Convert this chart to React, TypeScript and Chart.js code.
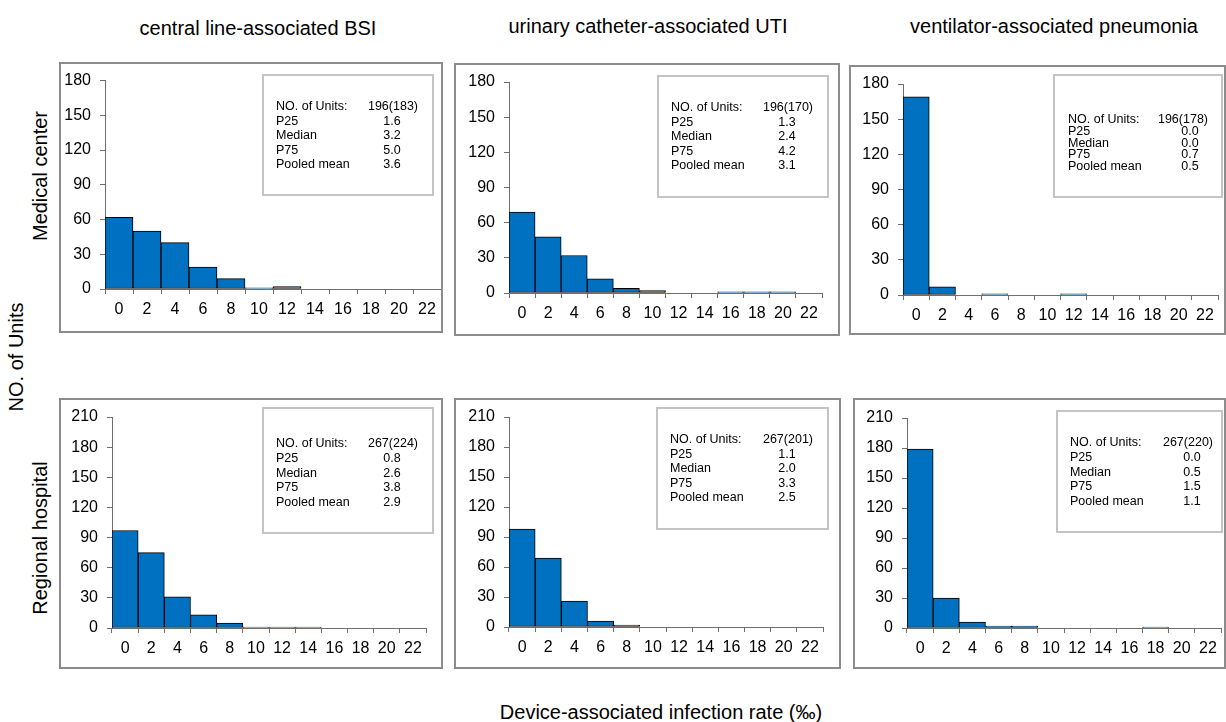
import React, { useEffect, useRef } from 'react';
import { Chart, registerables } from 'chart.js';

Chart.register(...registerables);

// ---------- data ----------
const binLabels = ['0', '2', '4', '6', '8', '10', '12', '14', '16', '18', '20', '22'];

const clabsiMedical = [62, 50, 40, 19, 9, 1, 2, 0, 0, 0, 0, 0];
const cautiMedical = [69, 48, 32, 12, 4, 2, 0, 0, 1, 1, 1, 0];
const vapMedical = [169, 7, 0, 1, 0, 0, 1, 0, 0, 0, 0, 0];
const clabsiRegional = [97, 75, 31, 13, 5, 1, 1, 1, 0, 0, 0, 0];
const cautiRegional = [98, 69, 26, 6, 2, 0, 0, 0, 0, 0, 0, 0];
const vapRegional = [179, 30, 6, 2, 2, 0, 0, 0, 0, 1, 0, 0];

const statLabels = ['NO. of Units:', 'P25', 'Median', 'P75', 'Pooled mean'];
const clabsiMedicalStats = ['196(183)', '1.6', '3.2', '5.0', '3.6'];
const cautiMedicalStats = ['196(170)', '1.3', '2.4', '4.2', '3.1'];
const vapMedicalStats = ['196(178)', '0.0', '0.0', '0.7', '0.5'];
const clabsiRegionalStats = ['267(224)', '0.8', '2.6', '3.8', '2.9'];
const cautiRegionalStats = ['267(201)', '1.1', '2.0', '3.3', '2.5'];
const vapRegionalStats = ['267(220)', '0.0', '0.5', '1.5', '1.1'];

const medicalYMax = 180;
const regionalYMax = 210;
const yStep = 30;

const columnTitles = ['central line-associated BSI', 'urinary catheter-associated UTI', 'ventilator-associated pneumonia'];
const rowTitles = ['Medical center', 'Regional hospital'];
const yAxisTitle = 'NO. of Units';
const xAxisTitle = 'Device-associated infection rate (‰)';

// ---------- layout (page coordinates) ----------
type Layout = {
  box: [number, number, number, number];
  plot: [number, number, number, number];
  info: [number, number, number, number];
  textX: number;
  lineY0: number;
  lineGap: number;
  valR: number;
  valC: number;
};

const panelLayouts: Layout[] = [
  { box: [59, 62, 443, 333], plot: [105, 72, 441, 289], info: [263, 75, 433, 195], textX: 276, lineY0: 107, lineGap: 14.5, valR: 418, valC: 392 },
  { box: [454, 63, 840, 336], plot: [509, 82, 822, 293], info: [658, 76, 828, 197], textX: 671, lineY0: 108, lineGap: 14.5, valR: 813, valC: 787 },
  { box: [849, 65, 1226, 335], plot: [903, 84, 1218, 295], info: [1054, 75, 1222, 197], textX: 1068, lineY0: 120, lineGap: 11.6, valR: 1208, valC: 1190 },
  { box: [59, 398, 443, 669], plot: [112, 417, 426, 628], info: [263, 408, 433, 533], textX: 276, lineY0: 444, lineGap: 14.6, valR: 418, valC: 392 },
  { box: [454, 398, 841, 669], plot: [509, 417, 823, 627], info: [657, 408, 828, 529], textX: 670, lineY0: 440, lineGap: 14.5, valR: 813, valC: 787 },
  { box: [853, 398, 1226, 669], plot: [907, 418, 1221, 628], info: [1057, 411, 1222, 532], textX: 1070, lineY0: 443, lineGap: 14.6, valR: 1213, valC: 1192 },
];

const panelValues = [clabsiMedical, cautiMedical, vapMedical, clabsiRegional, cautiRegional, vapRegional];
const panelStats = [clabsiMedicalStats, cautiMedicalStats, vapMedicalStats, clabsiRegionalStats, cautiRegionalStats, vapRegionalStats];
const panelYMax = [medicalYMax, medicalYMax, medicalYMax, regionalYMax, regionalYMax, regionalYMax];

const FONT = "'Liberation Sans', Arial, sans-serif";
const BAR_BLUE = '#0070C0';
const AXIS_GRAY = '#6f6f6f';

function Panel({ idx }: { idx: number }) {
  const ref = useRef<HTMLCanvasElement | null>(null);
  const L = panelLayouts[idx];
  const [bx0, by0, bx1, by1] = L.box;
  const W = bx1 - bx0;
  const H = by1 - by0;

  useEffect(() => {
    if (!ref.current) return;
    const values = panelValues[idx];
    const stats = panelStats[idx];
    const [px0, py0, px1, py1] = L.plot;

    const decor = {
      id: 'decor',
      afterDraw(chart: any) {
        const ctx = chart.ctx as CanvasRenderingContext2D;
        ctx.save();
        // panel border
        ctx.strokeStyle = '#8c8c8c';
        ctx.lineWidth = 2;
        ctx.strokeRect(1, 1, W - 2, H - 2);
        // info box
        const [ix0, iy0, ix1, iy1] = L.info;
        ctx.strokeStyle = '#c4c4c4';
        ctx.lineWidth = 2;
        ctx.strokeRect(ix0 - bx0, iy0 - by0, ix1 - ix0, iy1 - iy0);
        ctx.fillStyle = '#000';
        ctx.font = `12.5px ${FONT}`;
        ctx.textBaseline = 'middle';
        statLabels.forEach((lab, i) => {
          const y = L.lineY0 - by0 + i * L.lineGap;
          ctx.textAlign = 'left';
          ctx.fillText(lab, L.textX - bx0, y);
          if (i === 0) {
            ctx.textAlign = 'right';
            ctx.fillText(stats[i], L.valR - bx0, y);
          } else {
            ctx.textAlign = 'center';
            ctx.fillText(stats[i], L.valC - bx0, y);
          }
        });
        ctx.restore();
      },
    };

    const chart = new Chart(ref.current, {
      type: 'bar',
      data: {
        labels: binLabels,
        datasets: [
          {
            data: values.map((v) => (v === 0 ? null : v)),
            backgroundColor: BAR_BLUE,
            borderColor: '#000',
            borderWidth: 1,
            borderSkipped: false,
            barPercentage: 1,
            categoryPercentage: 1,
          },
        ],
      },
      options: {
        responsive: false,
        animation: false,
        devicePixelRatio: 1,
        layout: { padding: { left: 0, top: py0 - by0, right: bx1 - px1, bottom: 0 } },
        plugins: { legend: { display: false }, tooltip: { enabled: false }, title: { display: false } },
        scales: {
          x: {
            type: 'category',
            offset: true,
            grid: { offset: true, drawOnChartArea: false, drawTicks: true, tickLength: 5, color: AXIS_GRAY, lineWidth: 1 },
            border: { display: true, color: AXIS_GRAY, width: 1 },
            ticks: { color: '#000', font: { family: FONT, size: 16 }, padding: 6, maxRotation: 0, autoSkip: false },
            afterFit: (scale: any) => {
              scale.height = by1 - py1;
            },
          },
          y: {
            min: 0,
            max: panelYMax[idx],
            grid: { drawOnChartArea: false, drawTicks: true, tickLength: 5, color: AXIS_GRAY, lineWidth: 1 },
            border: { display: true, color: AXIS_GRAY, width: 1 },
            ticks: { stepSize: yStep, color: '#000', font: { family: FONT, size: 16 }, padding: 9 },
            afterFit: (scale: any) => {
              scale.width = px0 - bx0;
            },
          },
        },
      },
      plugins: [decor],
    });
    return () => chart.destroy();
  }, [idx]);

  return (
    <canvas
      ref={ref}
      width={W}
      height={H}
      style={{ position: 'absolute', left: bx0, top: by0, width: W, height: H, display: 'block' }}
    />
  );
}

const textBase: React.CSSProperties = {
  position: 'absolute',
  fontFamily: FONT,
  fontSize: 20,
  lineHeight: '20px',
  color: '#000',
  whiteSpace: 'nowrap',
};

export default function App() {
  const colCenters = [258, 648, 1054];
  const colBaselines = [35, 33, 33];
  return (
    <div style={{ position: 'absolute', left: 0, top: 0, width: 1226, height: 722, background: '#fff', overflow: 'hidden' }}>
      {columnTitles.map((t, i) => (
        <div key={t} style={{ ...textBase, left: colCenters[i], top: colBaselines[i] - 17, transform: 'translateX(-50%)' }}>
          {t}
        </div>
      ))}
      {rowTitles.map((t, i) => (
        <div
          key={t}
          style={{ ...textBase, left: 40, top: i === 0 ? 176 : 538, transform: 'translate(-50%, -50%) rotate(-90deg)' }}
        >
          {t}
        </div>
      ))}
      <div style={{ ...textBase, left: 16, top: 357, transform: 'translate(-50%, -50%) rotate(-90deg)' }}>{yAxisTitle}</div>
      <div style={{ ...textBase, left: 661, top: 719 - 17, transform: 'translateX(-50%)' }}>{xAxisTitle}</div>
      {panelLayouts.map((_, i) => (
        <Panel key={i} idx={i} />
      ))}
    </div>
  );
}
